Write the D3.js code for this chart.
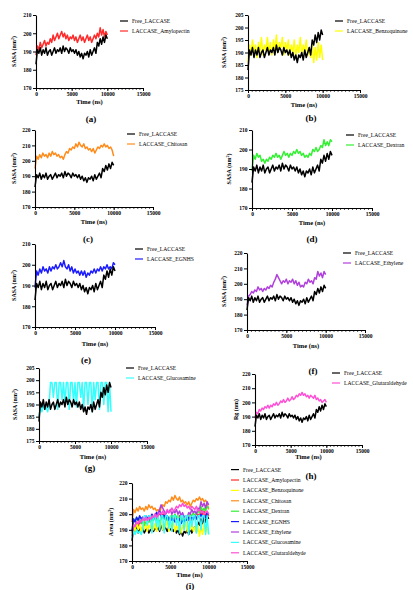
<!DOCTYPE html>
<html>
<head>
<meta charset="utf-8">
<script src="https://cdn.jsdelivr.net/npm/d3@7"></script>
<style>
body { margin: 0; background: #fff; }
text { font-family: "Liberation Serif", "DejaVu Serif", serif; }
</style>
</head>
<body>
<svg width="413" height="590"></svg>
<script>
// time (ns), one sample every 200 ns
var time = [0,200,400,600,800,1000,1200,1400,1600,1800,2000,2200,2400,2600,2800,3000,3200,3400,3600,3800,
  4000,4200,4400,4600,4800,5000,5200,5400,5600,5800,6000,6200,6400,6600,6800,7000,7200,7400,7600,7800,
  8000,8200,8400,8600,8800,9000,9200,9400,9600,9800,10000];

var freeLaccase = [183,191,189,192,188,191,189,192,188,190,191,188,190,192,189,191,190,192,189,193,
  190,192,191,189,192,190,191,189,191,188,190,187,189,186,189,188,190,187,191,188,
  190,192,189,195,193,197,194,198,195,199,197];
var amylopectin = [188,193,191,195,192,194,196,193,195,194,197,195,199,196,198,200,197,199,201,198,
  200,197,199,196,198,197,199,196,198,195,197,199,196,198,195,197,199,196,198,195,
  197,199,197,200,198,203,199,202,198,201,199];
var benzoquinone = [186,193,189,195,190,193,188,194,190,196,189,193,191,196,190,194,189,195,191,197,
  190,194,192,196,189,194,191,195,189,193,190,195,188,193,190,196,189,193,190,195,
  189,192,188,193,186,192,187,194,188,193,187];
var chitosan = [195,203,201,204,202,205,203,204,202,205,203,206,204,205,203,204,202,203,201,204,
  206,205,208,207,209,208,211,209,212,210,209,211,208,209,207,208,206,208,205,207,
  209,208,210,209,211,209,210,208,209,207,203];
var dextran = [189,197,195,198,196,197,194,195,193,195,194,196,195,197,196,198,196,197,195,197,
  199,197,198,196,198,197,199,198,200,198,199,197,198,196,197,196,198,197,200,199,
  201,199,200,202,201,205,202,204,202,205,204];
var egnhs = [189,197,195,198,196,199,197,198,196,199,197,199,198,200,198,199,201,199,202,199,
  198,200,197,199,196,198,196,197,195,197,195,197,194,196,195,197,196,198,196,198,
  197,199,197,199,198,200,198,199,198,201,200];
var ethylene = [186,192,193,195,194,196,195,198,196,197,195,197,196,198,197,199,198,201,203,206,
  204,202,200,202,201,203,200,202,201,203,200,202,199,201,198,199,198,201,200,203,
  201,202,200,204,203,208,205,207,204,208,206];
var glucosamine = [185,189,187,190,188,189,187,190,199,199,193,199,199,188,199,199,192,199,190,199,
  199,188,199,199,191,199,189,199,199,193,199,188,199,199,190,199,199,187,199,192,
  199,199,188,199,199,190,199,199,187,199,187];
var glutaraldehyde = [189,193,192,195,194,196,195,197,196,198,196,198,197,199,198,200,198,199,201,200,
  202,200,201,203,201,202,204,202,203,205,204,206,205,207,205,206,204,205,203,205,
  204,203,205,202,203,201,202,200,201,202,200];

var seriesNames = ["Free_LACCASE", "LACCASE_Amylopectin", "LACCASE_Benzoquinone", "LACCASE_Chitosan",
  "LACCASE_Dextran", "LACCASE_EGNHS", "LACCASE_Ethylene", "LACCASE_Glucosamine", "LACCASE_Glutaraldehyde"];
var seriesValues = [freeLaccase, amylopectin, benzoquinone, chitosan, dextran, egnhs, ethylene, glucosamine, glutaraldehyde];

var xTicks = [0, 5000, 10000, 15000];
var yTicks10 = [170, 180, 190, 200, 210];
var yTicks20 = [170, 180, 190, 200, 210, 220];
var yTicks5 = [175, 180, 185, 190, 195, 200, 205];

var colors = ["#000000", "#ff2a2a", "#ffff00", "#ff8c1a", "#33f033", "#1a1aff", "#b040dc", "#33ffff", "#ff4fd6"];

// panel layout
var panels = [
  {tag: "(a)", s: [1], dom: [170, 210], ticks: yTicks10, title: "SASA", x0: 36, x1: 143, yt: 15, yb: 88, tx: 16, xty: 104, tagx: 91, tagy: 122, lx: 132, ly: 21},
  {tag: "(b)", s: [2], dom: [175, 205], ticks: yTicks5, title: "SASA", x0: 248, x1: 360, yt: 15, yb: 90, tx: 226, xty: 107, tagx: 311, tagy: 121, lx: 347, ly: 21},
  {tag: "(c)", s: [3], dom: [170, 220], ticks: yTicks20, title: "SASA", x0: 35, x1: 153, yt: 130, yb: 207, tx: 16, xty: 224, tagx: 88, tagy: 242, lx: 139, ly: 134},
  {tag: "(d)", s: [4], dom: [170, 210], ticks: yTicks10, title: "SASA", x0: 252, x1: 372, yt: 130, yb: 208, tx: 231, xty: 225, tagx: 312, tagy: 242, lx: 358, ly: 135},
  {tag: "(e)", s: [5], dom: [170, 210], ticks: yTicks10, title: "SASA", x0: 35, x1: 155, yt: 244, yb: 327, tx: 16, xty: 346, tagx: 86, tagy: 363, lx: 147, ly: 249},
  {tag: "(f)", s: [6], dom: [170, 220], ticks: yTicks20, title: "SASA", x0: 247, x1: 365, yt: 253, yb: 330, tx: 226, xty: 348, tagx: 313, tagy: 374, lx: 355, ly: 253},
  {tag: "(g)", s: [7], dom: [175, 205], ticks: yTicks5, title: "SASA", x0: 39, x1: 147, yt: 368, yb: 441, tx: 17, xty: 459, tagx: 90, tagy: 471, lx: 138, ly: 368},
  {tag: "(h)", s: [8], dom: [170, 220], ticks: yTicks20, title: "Rg", x0: 255, x1: 362, yt: 374, yb: 445, tx: 238, xty: 459, tagx: 311, tagy: 479, lx: 344, ly: 373},
  {tag: "(i)", s: [1, 2, 3, 4, 5, 6, 7, 8], dom: [170, 220], ticks: yTicks20, title: "Area", x0: 132, x1: 247, yt: 483, yb: 561, tx: 113, xty: 577, tagx: 190, tagy: 589, lx: 243, ly: 469.6, lstep: 10.4, all: true}
];

var svg = d3.select("svg");

panels.forEach(function(p) {
  var g = svg.append("g");
  var x = d3.scaleLinear().domain([0, 15000]).range([p.x0, p.x1]);
  var y = d3.scaleLinear().domain(p.dom).range([p.yb, p.yt]);

  var line = d3.line()
    .x(function(d, i) { return x(time[i]); })
    .y(function(d) { return y(d); });

  // complex series first, free enzyme on top
  var order = p.all ? [0].concat(p.s) : p.s.concat([0]);
  order.forEach(function(k) {
    g.append("path")
      .attr("d", line(seriesValues[k]))
      .attr("fill", "none")
      .attr("stroke", colors[k])
      .attr("stroke-width", 1.5)
      .attr("stroke-linejoin", "round");
  });

  // minor x ticks
  g.append("g")
    .attr("transform", "translate(0," + p.yb + ")")
    .call(d3.axisBottom(x).tickValues(d3.range(0, 15001, 500)).tickSize(1.8).tickSizeOuter(0).tickFormat(""))
    .call(function(a) { a.select(".domain").remove(); a.selectAll("line").attr("stroke-width", 0.8); });

  var xa = g.append("g")
    .attr("transform", "translate(0," + p.yb + ")")
    .call(d3.axisBottom(x).tickValues(xTicks).tickSize(3).tickSizeOuter(0).tickPadding(1.5).tickFormat(d3.format("d")));
  xa.select(".domain").attr("stroke-width", 1.1);
  xa.selectAll("text").attr("font-size", 5.5).attr("font-weight", "bold").attr("font-family", "Liberation Serif");

  var ya = g.append("g")
    .attr("transform", "translate(" + p.x0 + ",0)")
    .call(d3.axisLeft(y).tickValues(p.ticks).tickSize(3).tickSizeOuter(0).tickPadding(1.5));
  ya.select(".domain").attr("stroke-width", 1.1);
  ya.selectAll("text").attr("font-size", 5.5).attr("font-weight", "bold").attr("font-family", "Liberation Serif");

  // axis titles
  g.append("text")
    .attr("x", (p.x0 + p.x1) / 2)
    .attr("y", p.xty)
    .attr("text-anchor", "middle")
    .attr("font-size", 6.5)
    .attr("font-weight", "bold")
    .text("Time (ns)");

  var yt = g.append("text")
    .attr("transform", "translate(" + p.tx + "," + ((p.yt + p.yb) / 2) + ") rotate(-90)")
    .attr("text-anchor", "middle")
    .attr("font-size", 6)
    .attr("font-weight", "bold");
  if (p.title == "Rg") {
    yt.text("Rg (nm)");
  } else {
    yt.append("tspan").text(p.title + " (nm");
    yt.append("tspan").attr("font-size", 4).attr("dy", -2.2).text("2");
    yt.append("tspan").attr("dy", 2.2).text(")");
  }

  // panel tag
  g.append("text")
    .attr("x", p.tagx)
    .attr("y", p.tagy)
    .attr("text-anchor", "middle")
    .attr("font-size", 9)
    .attr("font-weight", "bold")
    .text(p.tag);

  // legend
  var keys = [0].concat(p.s);
  var step = p.lstep || 10;
  var lg = g.selectAll(".leg").data(keys).enter().append("g")
    .attr("transform", function(d, i) { return "translate(" + p.lx + "," + (p.ly + i * step) + ")"; });
  lg.append("line")
    .attr("x1", -12).attr("x2", -4)
    .attr("stroke", function(d) { return colors[d]; })
    .attr("stroke-width", 1.2);
  lg.append("text")
    .attr("dy", "0.35em")
    .attr("font-size", 5.6)
    .text(function(d) { return seriesNames[d]; });
});
</script>
</body>
</html>
